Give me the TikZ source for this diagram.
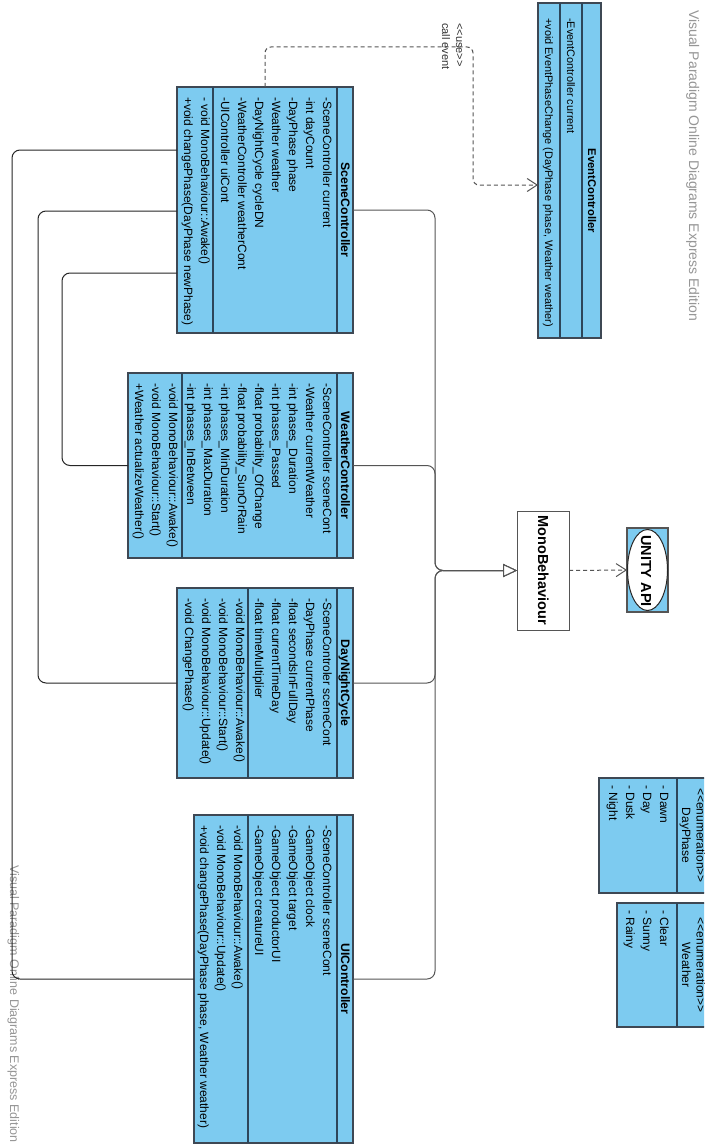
\documentclass[tikz,border=0pt]{standalone}
\usepackage{fontspec}
\setmainfont{Liberation Sans}
\usetikzlibrary{arrows.meta,shapes.geometric}
\definecolor{clsfill}{RGB}{125,203,240}
\definecolor{clsline}{RGB}{62,72,84}
\definecolor{divline}{RGB}{45,70,90}
\definecolor{conn}{RGB}{85,85,85}
\definecolor{wm}{RGB}{150,150,150}
\newcommand\fsz{\fontsize{12}{14}\selectfont}
\newcommand\fsb{\fontsize{12.3}{14}\selectfont\bfseries}
\newcommand\fsze{\fontsize{10.9}{13}\selectfont}
\newcommand\fsbe{\fontsize{11.2}{13}\selectfont\bfseries}
\newcommand\fbig{\fontsize{14.5}{16}\selectfont\bfseries}
\newcommand\textlines[4]{\foreach \ltxt [count=\i from 0] in {#4}{\node[ln] (#1\i) at ({#2-17*\i},#3) {\ltxt};}}
\begin{document}
\begin{tikzpicture}[x=1pt,y=-1pt,
  box/.style={draw=clsline, fill=clsfill, line width=1.1pt, inner sep=0, outer sep=0},
  ln/.style={rotate=-90, anchor=base west, inner sep=0, font=\fsz},
  lne/.style={rotate=-90, anchor=base west, inner sep=0, font=\fsze},
  ttl/.style={rotate=-90, anchor=base, inner sep=0, font=\fsb},
  ttlr/.style={rotate=-90, anchor=base, inner sep=0, font=\fsz},
  big/.style={rotate=-90, anchor=base, inner sep=0, font=\fbig},
  div/.style={draw=divline, line width=1.1pt},
  gen/.style={draw=conn, line width=1pt, rounded corners=8pt, -{Triangle[length=14pt,width=13pt,fill=white]}},
  assoc/.style={draw=black!85, line width=1pt, rounded corners=8pt},
  dep/.style={draw=conn, line width=1pt, dash pattern=on 4pt off 3pt, rounded corners=6pt, -{Straight Barb[length=10pt,width=13pt]}},
  wmark/.style={rotate=-90, anchor=base west, inner sep=0, text=wm},
  lbl/.style={rotate=-90, anchor=base west, inner sep=0, text=black!80, font=\fontsize{11}{12}\selectfont}
]
\useasboundingbox (0,0) rectangle (704,1145);
\clip (0,0) rectangle (704,1145);
\fill[white] (0,0) rectangle (704,1145);

% watermarks
\node[wmark, font=\fontsize{14}{16}\selectfont] (wm1) at (689,10) {Visual Paradigm Online Diagrams Express Edition};
\node[wmark, font=\fontsize{12.5}{14}\selectfont] (wm2) at (10,865) {Visual Paradigm Online Diagrams Express Edition};

% class boxes
\node[box, minimum width=176pt, minimum height=246pt] (sc) at (265,210) {};
\node[box, minimum width=225pt, minimum height=185pt] (wc) at (240.5,465.5) {};
\node[box, minimum width=176pt, minimum height=190pt] (dn) at (265,683) {};
\node[box, minimum width=159pt, minimum height=328pt] (ui) at (273.5,979) {};
\node[box, minimum width=63pt, minimum height=335pt] (ec) at (569.5,170.5) {};
\node[box, minimum width=121pt, minimum height=115pt] (dp) at (659.5,835.5) {};
\node[box, minimum width=103pt, minimum height=124pt] (we) at (668.5,965) {};
\node[draw=conn, fill=white, line width=1pt, minimum width=52pt, minimum height=119pt, inner sep=0, outer sep=0] (mb) at (543,570.5) {};
\node[box, draw=conn, minimum width=41pt, minimum height=84pt] (ua) at (647.5,570) {};
\node[ellipse, draw=black!85, fill=white, line width=1pt, minimum width=40pt, minimum height=81pt, inner sep=0] (uae) at (647.5,570) {};

% dividers
\draw[div] (337,87) -- (337,333) (213,87) -- (213,333);
\draw[div] (337,373) -- (337,558) (182,373) -- (182,558);
\draw[div] (337,588) -- (337,778) (248,588) -- (248,778);
\draw[div] (337,815) -- (337,1143) (248,815) -- (248,1143);
\draw[div] (582,3) -- (582,338) (560,3) -- (560,338);
\draw[div] (677,778) -- (677,893);
\draw[div] (677,903) -- (677,1027);

% titles
\node[ttl] (sct) at (341,210) {SceneController};
\node[ttl] (wct) at (341,465.5) {WeatherController};
\node[ttl] (dnt) at (341,683) {DayNightCycle};
\node[ttl] (uit) at (341,979) {UIController};
\node[ttl, font=\fsbe] (ect) at (588,191) {EventController};
\node[ttlr] (dps) at (696.5,835.5) {<\kern0pt<enumeration>\kern0pt>};
\node[ttlr] (dpt) at (682,835.5) {DayPhase};
\node[ttlr] (wes) at (696.5,965) {<\kern0pt<enumeration>\kern0pt>};
\node[ttlr] (wet) at (682,965) {Weather};
\node[big] (mbt) at (538,570.5) {MonoBehaviour};
\node[big] (uat) at (641,571) {UNITY API};

% members
\textlines{sca}{323}{97}{-SceneController current, -int dayCount, -DayPhase phase, -Weather weather, -DayNightCycle cycleDN, -WeatherController weatherCont, -UIController uiCont}
\textlines{sco}{201}{97}{- void MonoBehaviour::Awake(), +void changePhase(DayPhase newPhase)}
\textlines{wca}{323}{383}{-SceneController sceneCont, -Weather currentWeather, -int phases\_Duration, -int phases\_Passed, -float probability\_OfChange, -float probability\_SunOrRain, -int phases\_MinDuration, -int phases\_MaxDuration, -int phases\_InBetween}
\textlines{wco}{169}{383}{-void MonoBehaviour::Awake(), -void MonoBehaviour::Start(), +Weather actualizeWeather()}
\textlines{dna}{323}{598}{-SceneControler sceneCont, -DayPhase currentPhase, -float secondsInFullDay, -float currentTimeDay, -float timeMultiplier}
\textlines{dno}{236}{598}{-void MonoBehaviour::Awake(), -void MonoBehaviour::Start(), -void MonoBehaviour::Update(), -void ChangePhase()}
\textlines{uia}{323}{825}{-SceneController sceneCont, -GameObject clock, -GameObject target, -GameObject productorUI, -GameObject creatureUI}
\textlines{uio}{234}{825}{-void MonoBehaviour::Awake(), -void MonoBehaviour::Update(), {+void changePhase(DayPhase phase, Weather weather)}}
\node[lne] (eca0) at (567,18) {-EventController current};
\node[lne] (eco0) at (545,18) {+void EventPhaseChange (DayPhase phase, Weather weather)};
\textlines{dpi}{660}{785}{- Dawn, - Day, - Dusk, - Night}
\textlines{wei}{660}{910}{- Clear, - Sunny, - Rainy}

% generalization to MonoBehaviour
\coordinate (jn) at (435,570.5);
\draw[gen] (sc.east) -| (jn) -- (mb.west);
\draw[gen] (wc.east) -| (jn) -- (mb.west);
\draw[gen] (dn.east) -| (jn) -- (mb.west);
\draw[gen] (ui.east) -| (jn) -- (mb.west);

% associations
\coordinate (a1) at (12,600);
\coordinate (a2) at (38,450);
\coordinate (a3) at (62,370);
\draw[assoc] (sc.west |- 0,150) -| (a1) |- (ui.west);
\draw[assoc] (sc.west |- 0,211) -| (a2) |- (dn.west);
\draw[assoc] (sc.west |- 0,273) -| (a3) |- (wc.west);

% dependencies
\coordinate (dc) at (473,47);
\coordinate (ecin) at (0,185);
\draw[dep] (sc.north) |- (dc) |- (ec.west |- ecin);
\draw[dep] (mb.east) -- (ua.west);
\node[lbl] (use) at (456,23) {<\kern0pt<use>\kern0pt>};
\node[lbl] (call) at (442,23) {call event};
\end{tikzpicture}
\end{document}
